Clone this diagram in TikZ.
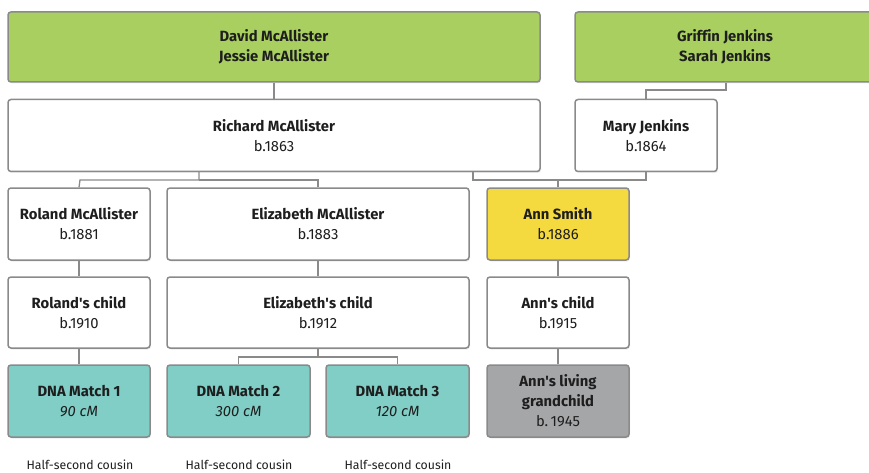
\documentclass[tikz,border=0pt]{standalone}
\usepackage{fontspec}
\setmainfont{Fira Sans}[Ligatures=NoCommon]
\usepackage{tikz}
\definecolor{ParentGreen}{HTML}{A8CF60}
\definecolor{AnnYellow}{HTML}{F4DA3E}
\definecolor{MatchTeal}{HTML}{80CEC6}
\definecolor{LivingGrey}{HTML}{A5A6A8}
\definecolor{BoxEdge}{HTML}{8A8A8A}
\definecolor{InkDark}{HTML}{1E1E1E}
\usetikzlibrary{calc}
\usetikzlibrary{shadows}

\begin{document}
\begin{tikzpicture}[x=1pt, y=-1pt,
    font=\fontsize{14.8}{20}\selectfont,
    text=InkDark,
    person/.style={shape=rectangle,
      rounded corners=3pt,
      draw=BoxEdge,
      line width=1.5pt,
      fill=white,
      align=center,
      inner sep=0pt,
      drop shadow={opacity=0.15, shadow xshift=1pt, shadow yshift=-1.5pt}},
    link/.style={draw=BoxEdge, line width=1.3pt},
    cousin/.style={font=\fontsize{12.3}{14}\selectfont}]

    \path [use as bounding box] (0,0) rectangle (869,473);

    % top row: couples
    \node[name=david, person, fill=ParentGreen,
      minimum width=532pt, minimum height=70pt]
      at (274,47) {\textbf{David McAllister}\\\textbf{Jessie McAllister}};

    \node[name=griffin, person, fill=ParentGreen,
      minimum width=300pt, minimum height=70pt]
      at (725,47) {\textbf{Griffin Jenkins}\\\textbf{Sarah Jenkins}};

    % second row
    \node[name=richard, person,
      minimum width=532pt, minimum height=72pt]
      at (274,135.5) {\textbf{Richard McAllister}\\b.1863};

    \node[name=mary, person,
      minimum width=142pt, minimum height=72pt]
      at (646,135.5) {\textbf{Mary Jenkins}\\b.1864};

    % third row
    \node[name=roland, person,
      minimum width=142pt, minimum height=72pt]
      at (79,224) {\textbf{Roland McAllister}\\b.1881};

    \node[name=elizabeth, person,
      minimum width=302pt, minimum height=72pt]
      at (318,224) {\textbf{Elizabeth McAllister}\\b.1883};

    \node[name=ann, person, fill=AnnYellow,
      minimum width=142pt, minimum height=72pt]
      at (558,224) {\textbf{Ann Smith}\\b.1886};

    % fourth row
    \node[name=rolandchild, person,
      minimum width=142pt, minimum height=71pt]
      at (79,312.5) {\textbf{Roland\textquotesingle s child}\\b.1910};

    \node[name=elizabethchild, person,
      minimum width=302pt, minimum height=71pt]
      at (318,312.5) {\textbf{Elizabeth\textquotesingle s child}\\b.1912};

    \node[name=annchild, person,
      minimum width=142pt, minimum height=71pt]
      at (558,312.5) {\textbf{Ann\textquotesingle s child}\\b.1915};

    % bottom row
    \node[name=match1, person, fill=MatchTeal,
      minimum width=142pt, minimum height=72pt]
      at (79,401) {\textbf{DNA Match 1}\\\textit{90 cM}};

    \node[name=match2, person, fill=MatchTeal,
      minimum width=143pt, minimum height=72pt]
      at (238.5,401) {\textbf{DNA Match 2}\\\textit{300 cM}};

    \node[name=match3, person, fill=MatchTeal,
      minimum width=143pt, minimum height=72pt]
      at (397.5,401) {\textbf{DNA Match 3}\\\textit{120 cM}};

    \node[name=grandchild, person, fill=LivingGrey,
      minimum width=142pt, minimum height=72pt]
      at (558,401) {\textbf{Ann\textquotesingle s living}\\\textbf{grandchild}\\b.\,1945};

    \node[name=label1, cousin] at (80,465) {Half-second cousin};
    \node[name=label2, cousin] at (239,465) {Half-second cousin};
    \node[name=label3, cousin] at (398,465) {Half-second cousin};

    % connectors
    \coordinate (rdrop) at (473,172);
    \path[link] (david.south -| 274,0) -- (richard.north -| 274,0);
    \path[link] (griffin.south -| 726,0) |- (646,90) -- (mary.north);
    \path[link] (richard.south -| 199,0) |- (80,180) -- (roland.north);
    \path[link] (199,180) -| (elizabeth.north);
    \path[link] (rdrop) |- (646,180) -- (mary.south);
    \path[link] (558,180) -- (ann.north);
    \path[link] (roland.south) -- (rolandchild.north);
    \path[link] (elizabeth.south) -- (elizabethchild.north);
    \path[link] (ann.south) -- (annchild.north);
    \path[link] (rolandchild.south) -- (match1.north);
    \path[link] (elizabethchild.south) |- (match2.north |- 0,357) -- (match2.north);
    \path[link] (318,357) -| (match3.north);
    \path[link] (annchild.south) -- (grandchild.north);
\end{tikzpicture}
\end{document}
